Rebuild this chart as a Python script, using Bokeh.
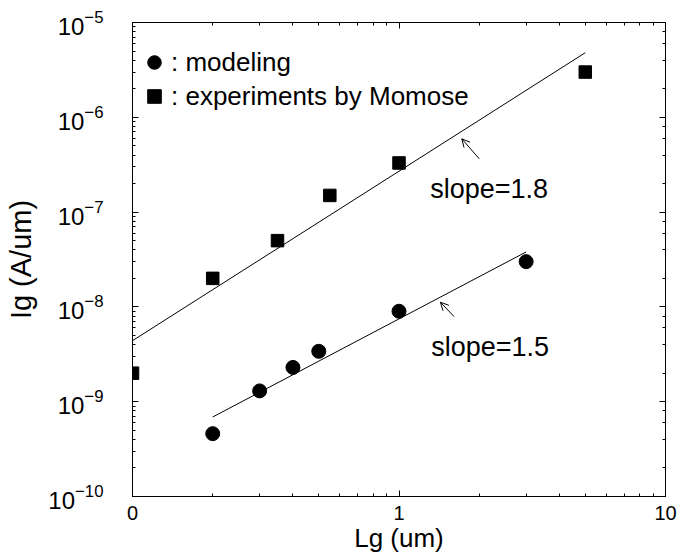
from bokeh.plotting import figure
from bokeh.models import (Range1d, LogAxis, CustomJSTickFormatter, Legend, LegendItem,
                          Arrow, OpenHead, Label, LogTicker, FixedTicker)
from bokeh.embed import file_html
from bokeh.resources import INLINE

# ---- data ----
model_lg = [0.2, 0.3, 0.4, 0.5, 1.0, 3.0]
model_ig = [4.6e-10, 1.3e-9, 2.3e-9, 3.4e-9, 9.0e-9, 3.0e-8]

exp_lg = [0.1, 0.2, 0.35, 0.55, 1.0, 5.0]
exp_ig = [2.0e-9, 2.0e-8, 5.0e-8, 1.5e-7, 3.3e-7, 3.0e-6]

fit_exp_lg = [0.1, 5.0]
fit_exp_ig = [4.4e-9, 4.8e-6]
fit_model_lg = [0.2, 3.0]
fit_model_ig = [6.9e-10, 3.8e-8]

x_major_ticks = [0.1, 1.0, 10.0]
x_tick_labels = ["0", "1", "10"]
x_minor_ticks = [m * d for d in (0.1, 1.0) for m in range(2, 10)]

slope_texts = ["slope=1.8", "slope=1.5"]
slope_text_x = [1.31, 1.32]
slope_text_y = [1.77e-7, 3.76e-9]
arrow_start_x = [2.0, 1.61]
arrow_start_y = [3.65e-7, 7.9e-9]
arrow_end_x = [1.72, 1.43]
arrow_end_y = [5.93e-7, 1.12e-8]

FONT = "Liberation Sans"

p = figure(width=678, height=558, x_axis_type="log", y_axis_type="log",
           x_range=Range1d(0.1, 10), y_range=Range1d(1e-10, 1e-5),
           output_backend="svg", toolbar_location=None,
           min_border_left=132, min_border_right=13, min_border_top=22, min_border_bottom=62,
           background_fill_color="white", border_fill_color="white")
p.outline_line_color = None
p.xgrid.visible = False
p.ygrid.visible = False

def style_axis(ax):
    ax.axis_line_color = "black"
    ax.axis_line_width = 1
    ax.major_tick_in = 6
    ax.major_tick_out = 0
    ax.minor_tick_in = 3
    ax.minor_tick_out = 0
    ax.major_tick_line_color = "black"
    ax.minor_tick_line_color = "black"
    ax.major_label_text_font = FONT
    ax.major_label_text_font_size = "19px"
    ax.major_label_text_color = "black"
    ax.axis_label_text_font = FONT
    ax.axis_label_text_font_style = "normal"
    ax.axis_label_text_font_size = "26px"
    ax.axis_label_text_color = "black"

xa = p.xaxis[0]
ya = p.yaxis[0]
style_axis(xa)
style_axis(ya)
xa.axis_label = "Lg (um)"
ya.axis_label = "Ig (A/um)"
xa.ticker = FixedTicker(ticks=x_major_ticks, minor_ticks=x_minor_ticks)
xa.formatter = CustomJSTickFormatter(args=dict(labels=x_tick_labels),
                                     code="const e = Math.round(Math.log10(tick)) + 1; return labels[e] ?? '';")
xa.major_label_text_font_size = "20px"
xa.major_label_standoff = 9
xa.axis_label_standoff = 0
ya.major_label_text_font_size = "24px"
ya.major_label_standoff = 29
ya.axis_label_standoff = 8
ya.axis_label_text_font_size = "29px"

top = LogAxis(ticker=FixedTicker(ticks=x_major_ticks, minor_ticks=x_minor_ticks),
              formatter=CustomJSTickFormatter(code="return ''"))
right = LogAxis(ticker=LogTicker(), formatter=CustomJSTickFormatter(code="return ''"))
style_axis(top)
style_axis(right)
top.major_label_text_font_size = "0px"
right.major_label_text_font_size = "0px"
p.add_layout(top, "above")
p.add_layout(right, "right")

# fit lines
p.line(fit_exp_lg, fit_exp_ig, line_color="black", line_width=1)
p.line(fit_model_lg, fit_model_ig, line_color="black", line_width=1)

# markers
r_model = p.scatter(model_lg, model_ig, marker="circle", size=14,
                    fill_color="black", line_color="black")
r_exp = p.scatter(exp_lg, exp_ig, marker="square", size=12.5,
                  fill_color="black", line_color="black")

# arrows + slope labels
for i in range(2):
    p.add_layout(Arrow(end=OpenHead(size=8, line_width=1, line_color="black"),
                       x_start=arrow_start_x[i], y_start=arrow_start_y[i],
                       x_end=arrow_end_x[i], y_end=arrow_end_y[i],
                       line_width=1, line_color="black"))
    p.add_layout(Label(x=slope_text_x[i], y=slope_text_y[i], text=slope_texts[i],
                       text_font=FONT, text_font_size="27px", text_color="black",
                       text_baseline="middle", text_align="left"))

legend = Legend(items=[LegendItem(label=": modeling", renderers=[r_model]),
                       LegendItem(label=": experiments by Momose", renderers=[r_exp])],
                location=(5, 383), glyph_width=34, glyph_height=34,
                label_standoff=0, spacing=0, padding=0, margin=0,
                border_line_alpha=0, background_fill_alpha=0,
                label_text_font=FONT, label_text_font_size="26px", label_text_color="black")
p.add_layout(legend)

open("out.html", "w").write(file_html(p, INLINE))
